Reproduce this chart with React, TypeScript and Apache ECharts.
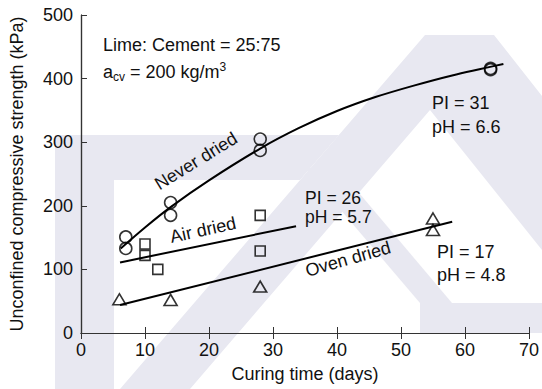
import React, { useEffect, useRef } from "react";
import * as echarts from "echarts";

// ---- data ----
const NEVER_DAYS = [7, 7, 14, 14, 28, 28, 64, 64];
const NEVER_VALS = [151, 133, 205, 185, 305, 287, 416, 414];
const AIR_DAYS = [10, 10, 12, 28, 28];
const AIR_VALS = [140, 122, 100, 185, 129];
const OVEN_DAYS = [6, 14, 28, 55, 55];
const OVEN_VALS = [53, 52, 73, 180, 162];

const NEVER_FIT_DAYS = [6.2, 10, 14, 20, 28, 34, 40, 46, 52, 58, 66];
const NEVER_FIT_VALS = [133, 166, 198, 240, 290, 322, 349, 371, 389, 405, 423];
const AIR_FIT_DAYS = [6.1, 33.6];
const AIR_FIT_VALS = [111, 168];
const OVEN_FIT_DAYS = [6.1, 58];
const OVEN_FIT_VALS = [44, 175];

const X_TICKS = [0, 10, 20, 30, 40, 50, 60, 70];
const Y_TICKS = [0, 100, 200, 300, 400, 500];

const FONT = "'Liberation Sans', Arial, Helvetica, sans-serif";
const INK = "#111";
const WM = "#e8e8f1";

const zip = (xs: number[], ys: number[]) => xs.map((x, i) => [x, ys[i]]);

export default function App() {
  const ref = useRef<HTMLDivElement>(null);
  useEffect(() => {
    if (!ref.current) return;
    const chart = echarts.init(ref.current, undefined, { renderer: "svg" });
    const deg = Math.PI / 180;
    const wmPoly = (pts: number[][]) => ({
      type: "polygon",
      z: -10,
      silent: true,
      shape: { points: pts },
      style: { fill: WM },
    });
    const txt = (x: number, y: number, text: string, extra: any = {}) => ({
      type: "text",
      x,
      y,
      z: 10,
      style: {
        text,
        fill: INK,
        fontSize: 18,
        fontFamily: FONT,
        align: "left",
        verticalAlign: "middle",
        ...extra,
      },
    });
    const option: any = {
      animation: false,
      backgroundColor: "#fff",
      grid: { left: 78, right: 9, top: 15, bottom: 56, containLabel: false },
      graphic: [
        // faint watermark behind the plot
        wmPoly([[55, 135], [114, 135], [114, 389], [55, 389]]),
        wmPoly([[55, 135], [339, 135], [300, 180], [55, 180]]),
        wmPoly([[120, 389], [425, 35], [494, 35], [542, 96], [542, 250], [430, 110], [190, 389]]),
        wmPoly([[305, 168], [338, 168], [452, 303], [420, 303]]),
        wmPoly([[420, 303], [542, 303], [542, 333], [420, 333]]),
        txt(103, 45, "Lime: Cement = 25:75"),
        {
          type: "text",
          x: 103,
          y: 72,
          z: 10,
          style: {
            text: "{b|a}{sub|cv}{b| = 200 kg/m}{sup|3}",
            fill: INK,
            fontFamily: FONT,
            fontSize: 18,
            align: "left",
            verticalAlign: "middle",
            rich: {
              b: { fontSize: 18, fontFamily: FONT, fill: INK, lineHeight: 22, verticalAlign: "middle" },
              sub: { fontSize: 12, fontFamily: FONT, fill: INK, lineHeight: 22, verticalAlign: "bottom", padding: [10, 0, 0, 0] },
              sup: { fontSize: 12, fontFamily: FONT, fill: INK, lineHeight: 22, verticalAlign: "top", padding: [0, 0, 10, 0] },
            },
          },
        },
        txt(432, 103, "PI = 31"),
        txt(432, 127, "pH = 6.6"),
        txt(305, 198, "PI = 26", { fontSize: 17.5 }),
        txt(305, 216.5, "pH = 5.7", { fontSize: 17.5 }),
        txt(437, 252, "PI = 17"),
        txt(437, 275, "pH = 4.8"),
        { ...txt(196, 161, "Never dried", { align: "center" }), rotation: 31.6 * deg },
        { ...txt(203, 230, "Air dried", { align: "center" }), rotation: 12.4 * deg },
        { ...txt(348, 259, "Oven dried", { align: "center" }), rotation: 16 * deg },
      ],
      xAxis: [
        {
          type: "value",
          position: "bottom",
          min: X_TICKS[0],
          max: X_TICKS[X_TICKS.length - 1],
          interval: 10,
          name: "Curing time (days)",
          nameLocation: "middle",
          nameGap: 32,
          nameTextStyle: { fontSize: 18, fontFamily: FONT, color: INK },
          axisLine: { show: true, lineStyle: { color: "#333", width: 1.2 } },
          axisTick: { show: true, inside: true, length: 6, lineStyle: { color: "#333" } },
          axisLabel: { fontSize: 18, fontFamily: FONT, color: INK, margin: 8 },
          splitLine: { show: false },
        },
        {
          type: "value",
          position: "top",
          min: X_TICKS[0],
          max: X_TICKS[X_TICKS.length - 1],
          interval: 10,
          axisLine: { show: true, lineStyle: { color: "#333", width: 1.2 } },
          axisTick: { show: true, inside: true, length: 6, lineStyle: { color: "#333" } },
          axisLabel: { show: false },
          splitLine: { show: false },
        },
      ],
      yAxis: [
        {
          type: "value",
          position: "left",
          min: Y_TICKS[0],
          max: Y_TICKS[Y_TICKS.length - 1],
          interval: 100,
          name: "Unconfined compressive strength (kPa)",
          nameLocation: "middle",
          nameGap: 55,
          nameTextStyle: { fontSize: 18, fontFamily: FONT, color: INK },
          axisLine: { show: true, lineStyle: { color: "#333", width: 1.2 } },
          axisTick: { show: true, inside: true, length: 6, lineStyle: { color: "#333" } },
          axisLabel: { fontSize: 18, fontFamily: FONT, color: INK, margin: 8 },
          splitLine: { show: false },
        },
        {
          type: "value",
          position: "right",
          min: Y_TICKS[0],
          max: Y_TICKS[Y_TICKS.length - 1],
          interval: 100,
          axisLine: { show: true, lineStyle: { color: "#333", width: 1.2 } },
          axisTick: { show: false },
          axisLabel: { show: false },
          splitLine: { show: false },
        },
      ],
      series: [
        {
          type: "line",
          data: zip(NEVER_FIT_DAYS, NEVER_FIT_VALS),
          smooth: 0.3,
          showSymbol: false,
          lineStyle: { color: "#000", width: 2 },
        },
        {
          type: "line",
          data: zip(AIR_FIT_DAYS, AIR_FIT_VALS),
          showSymbol: false,
          lineStyle: { color: "#000", width: 2 },
        },
        {
          type: "line",
          data: zip(OVEN_FIT_DAYS, OVEN_FIT_VALS),
          showSymbol: false,
          lineStyle: { color: "#000", width: 2 },
        },
        {
          type: "scatter",
          data: zip(NEVER_DAYS, NEVER_VALS),
          symbol: "circle",
          symbolSize: 12,
          itemStyle: { color: "transparent", borderColor: "#000", borderWidth: 1.6 },
          z: 5,
        },
        {
          type: "scatter",
          data: zip(AIR_DAYS, AIR_VALS),
          symbol: "rect",
          symbolSize: 10,
          itemStyle: { color: "transparent", borderColor: "#000", borderWidth: 1.6 },
          z: 5,
        },
        {
          type: "scatter",
          data: zip(OVEN_DAYS, OVEN_VALS),
          symbol: "triangle",
          symbolSize: [13, 11],
          itemStyle: { color: "transparent", borderColor: "#000", borderWidth: 1.6 },
          z: 5,
        },
      ],
    };
    chart.setOption(option);
    return () => chart.dispose();
  }, []);
  return <div ref={ref} style={{ width: 542, height: 389, position: "absolute", left: 0, top: 0 }} />;
}
